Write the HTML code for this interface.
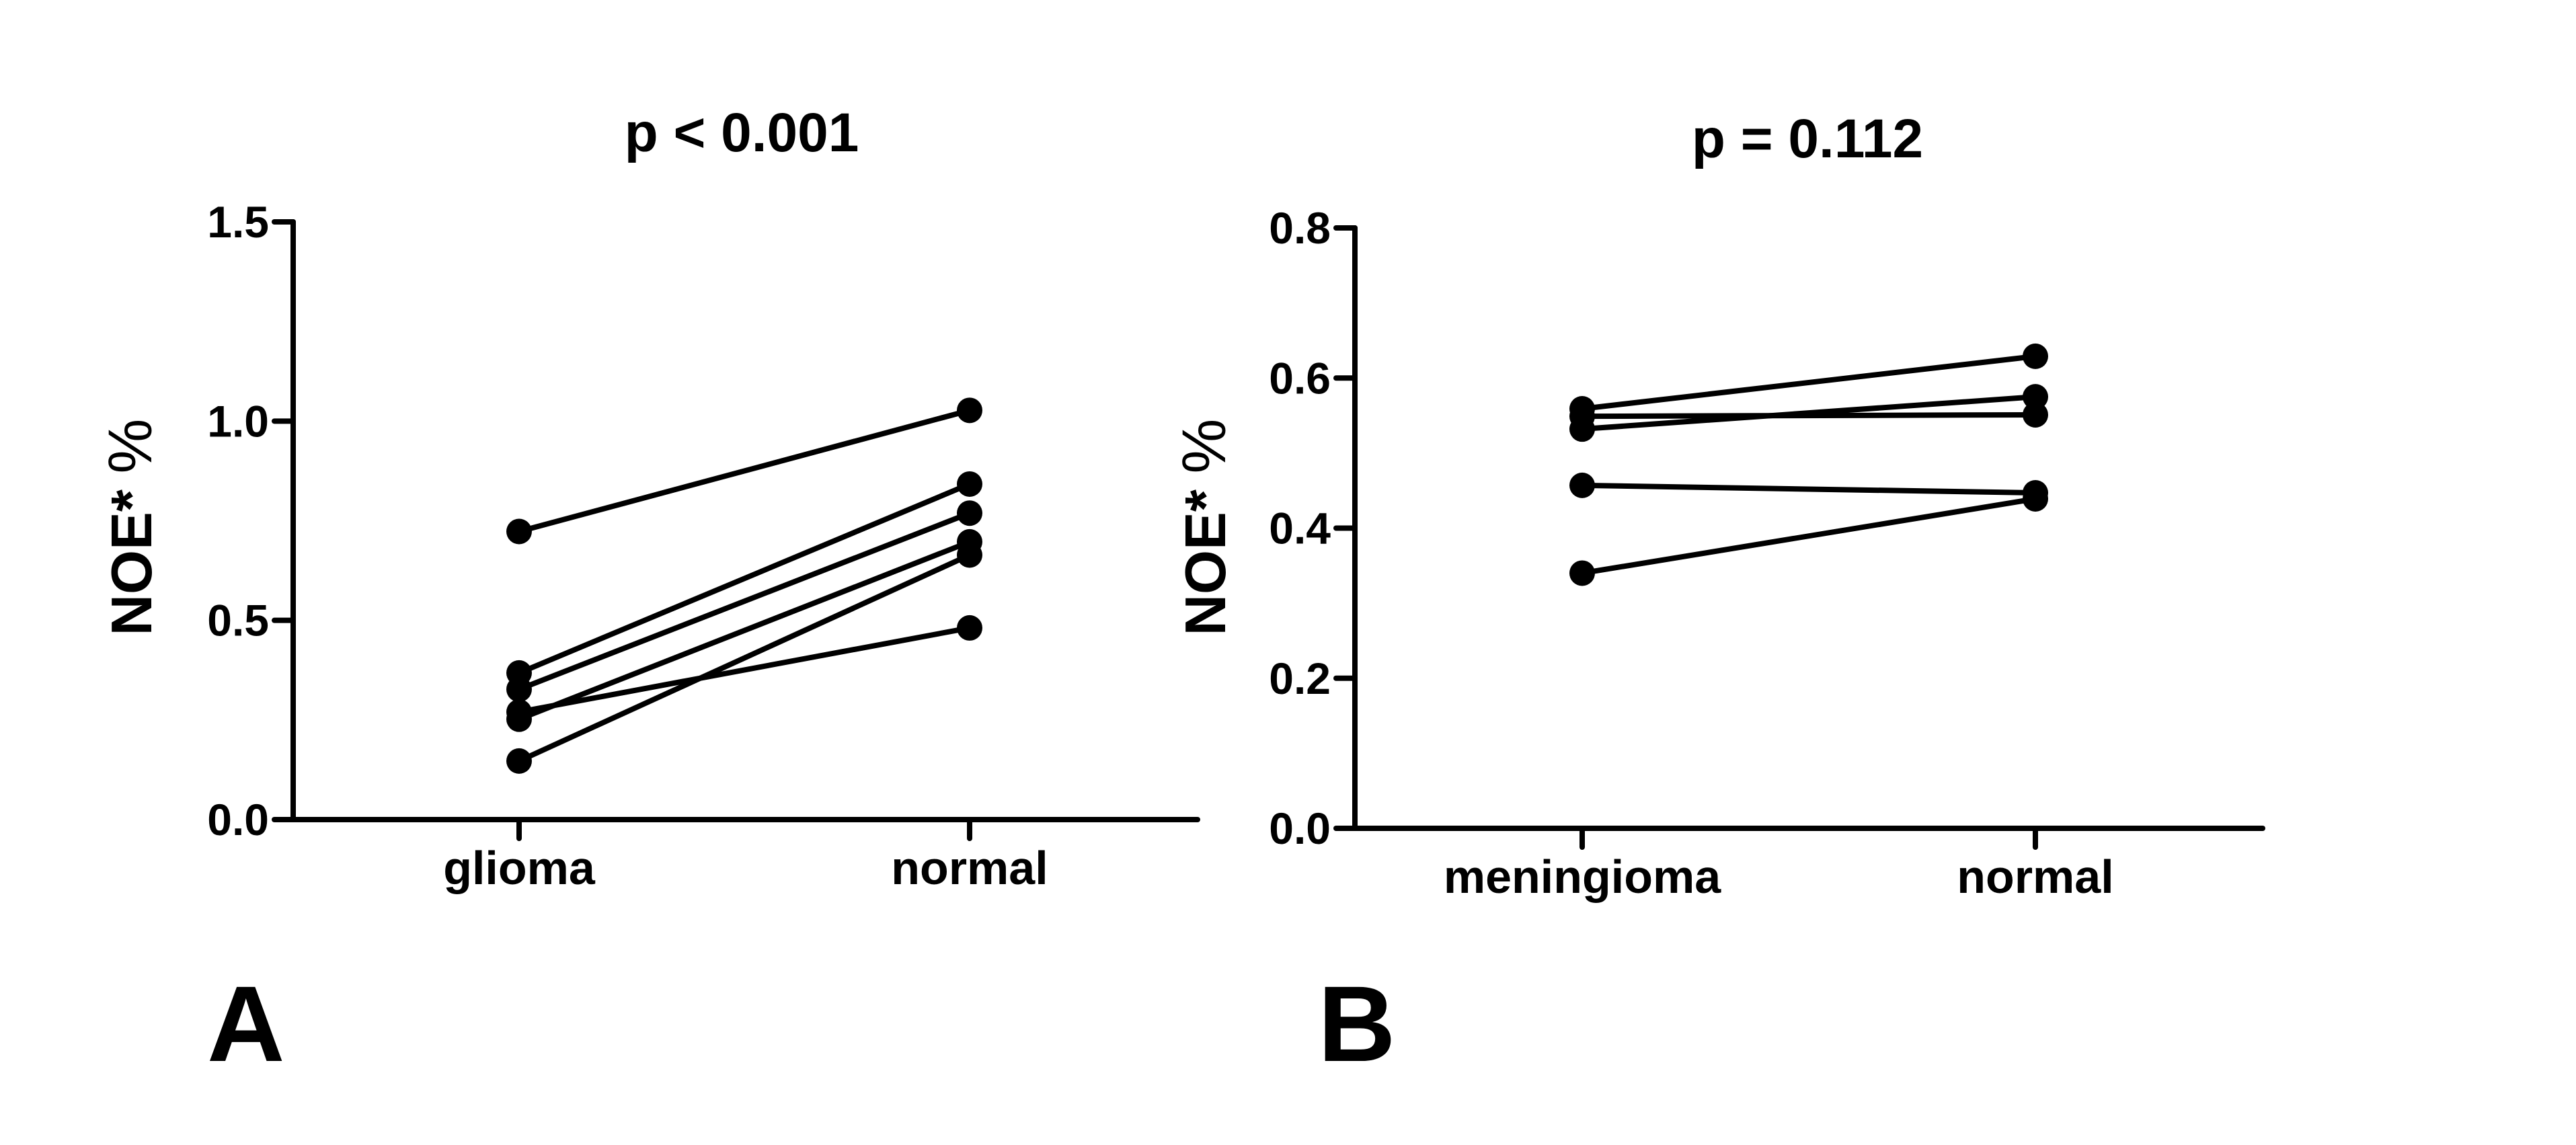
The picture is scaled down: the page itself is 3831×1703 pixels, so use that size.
<!DOCTYPE html>
<html><head><meta charset="utf-8"><style>
html,body{margin:0;padding:0;background:#fff}
svg{display:block}
text{font-family:"Liberation Sans",Arial,sans-serif;font-weight:bold;fill:#000}
</style></head><body>
<svg id="fig" width="3831" height="1703" viewBox="0 0 3831 1703" xmlns="http://www.w3.org/2000/svg">
<g id="panelA"></g>
<g id="panelB"></g>
</svg>
<script>
const NS="http://www.w3.org/2000/svg";
// Panel A data
const catsA=["glioma","normal"];
const gliomaVals=[0.723,0.368,0.327,0.270,0.252,0.147];
const normalValsA=[1.027,0.842,0.769,0.481,0.697,0.664];
const ticksA=[0.0,0.5,1.0,1.5];
const tickLabelsA=["0.0","0.5","1.0","1.5"];
// Panel B data
const catsB=["meningioma","normal"];
const meningiomaVals=[0.559,0.549,0.532,0.457,0.340];
const normalValsB=[0.629,0.551,0.575,0.447,0.439];
const ticksB=[0.0,0.2,0.4,0.6,0.8];
const tickLabelsB=["0.0","0.2","0.4","0.6","0.8"];

function mk(parent,tag,attrs,txt){
  const e=document.createElementNS(NS,tag);
  for(const k in attrs)e.setAttribute(k,attrs[k]);
  if(txt!==undefined)e.textContent=txt;
  parent.appendChild(e);return e;
}
function panel(g,cfg){
  const y=v=>cfg.y0-(v-cfg.vmin)/(cfg.vmax-cfg.vmin)*(cfg.y0-cfg.y1);
  const x=i=>cfg.cx[i];
  const ya=mk(g,"line",{x1:cfg.ax,y1:y(cfg.vmax),x2:cfg.ax,y2:cfg.y0,stroke:"#000","stroke-width":8,"stroke-linecap":"round"});
  
  
  const xa=mk(g,"line",{x1:cfg.ax,y1:cfg.y0,x2:cfg.axEnd,y2:cfg.y0,stroke:"#000","stroke-width":8,"stroke-linecap":"round"});
  
  
  cfg.ticks.forEach((t,i)=>{
    const tl=mk(g,"line",{x1:cfg.ax-28,y1:y(t),x2:cfg.ax,y2:y(t),stroke:"#000","stroke-width":8,"stroke-linecap":"round"});
    
    
    const tx=mk(g,"text",{x:cfg.ax-36,y:y(t)+23,"text-anchor":"end","font-size":66},cfg.tickLabels[i]);
    
    
  });
  cfg.cats.forEach((c,i)=>{
    const tl=mk(g,"line",{x1:x(i),y1:cfg.y0,x2:x(i),y2:cfg.y0+28,stroke:"#000","stroke-width":8,"stroke-linecap":"round"});
    
    
    const tx=mk(g,"text",{x:x(i),y:cfg.y0+96,"text-anchor":"middle","font-size":70},c);
    
    
  });
  cfg.a.forEach((v,i)=>{
    const ln=mk(g,"line",{x1:x(0),y1:y(v),x2:x(1),y2:y(cfg.b[i]),stroke:"#000","stroke-width":8});
    
    
  });
  cfg.a.forEach((v,i)=>{
    [[0,v],[1,cfg.b[i]]].forEach(p=>{
      const c=mk(g,"circle",{cx:x(p[0]),cy:y(p[1]),r:19,fill:"#000"});
      
      
    });
  });
  const ti=mk(g,"text",{x:cfg.titleX,y:cfg.titleY,"text-anchor":"middle","font-size":82},cfg.title);
  
  
  const yt=mk(g,"text",{x:0,y:0,transform:`translate(${cfg.ytX},${cfg.ytY}) rotate(-90)`,"text-anchor":"middle","font-size":85});
  
  
  mk(yt,"tspan",{},"NOE* ");
  mk(yt,"tspan",{"font-weight":"normal","font-size":92},"%");
  const pl=mk(g,"text",{x:cfg.letterX,y:1578,"font-size":160},cfg.letter);
  
  
}
panel(document.getElementById("panelA"),{ax:436,axEnd:1781,y0:1219,y1:330,vmin:0,vmax:1.5,cx:[772,1442],
  ticks:ticksA,tickLabels:tickLabelsA,cats:catsA,a:gliomaVals,b:normalValsA,title:"p < 0.001",titleX:1103,titleY:225,
  ytX:225,ytY:784,letter:"A",letterX:308});
panel(document.getElementById("panelB"),{ax:2015,axEnd:3365,y0:1232,y1:339,vmin:0,vmax:0.8,cx:[2353,3027],
  ticks:ticksB,tickLabels:tickLabelsB,cats:catsB,a:meningiomaVals,b:normalValsB,title:"p = 0.112",titleX:2688,titleY:234,
  ytX:1822,ytY:784,letter:"B",letterX:1960});
</script>
</body></html>
